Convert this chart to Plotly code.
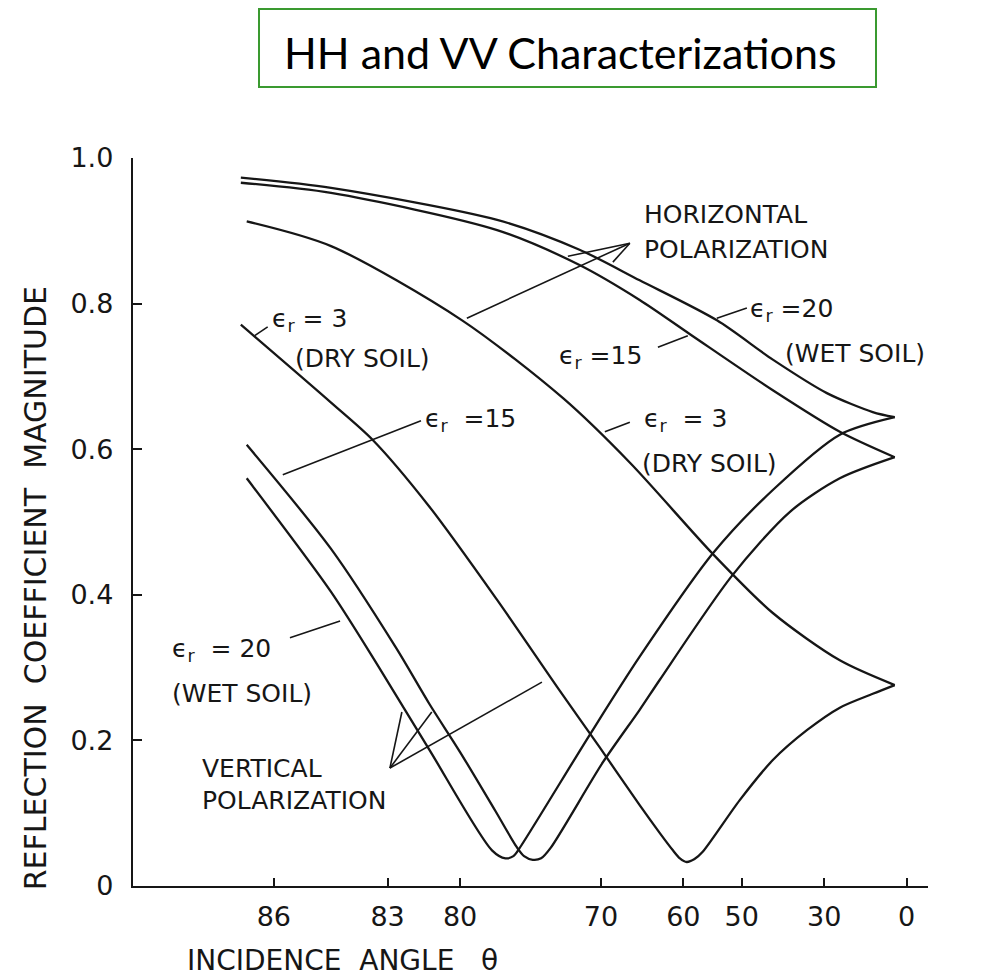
import numpy as np
import plotly.graph_objects as go

# ---- curve data: incidence angle (deg) and reflection coefficient magnitude ----
hh20_theta = [86.6, 84.7, 78.0, 72.0, 65.8, 54.6, 43.4, 29.2, 13.8, 5.1]
hh20_mag = [0.973, 0.959, 0.915, 0.874, 0.832, 0.777, 0.723, 0.677, 0.651, 0.644]

hh15_theta = [86.6, 84.7, 78.0, 72.0, 65.8, 59.0, 43.4, 25.2, 5.1]
hh15_mag = [0.966, 0.952, 0.901, 0.853, 0.805, 0.758, 0.681, 0.624, 0.589]

hh3_theta = [86.5, 84.7, 79.9, 73.4, 66.9, 55.3, 43.4, 25.2, 5.1]
hh3_mag = [0.913, 0.879, 0.777, 0.670, 0.581, 0.456, 0.375, 0.310, 0.276]

vv3_theta = [86.6, 84.7, 83.5, 81.4, 78.0, 73.7, 70.1, 65.8, 63.3, 61.5, 60.5,
             59.5, 58.3, 57.0, 50.4, 43.4, 34.9, 25.2, 13.8, 5.1]
vv3_mag = [0.771, 0.664, 0.613, 0.521, 0.393, 0.269, 0.190, 0.111, 0.073, 0.049, 0.038,
           0.033, 0.037, 0.047, 0.118, 0.173, 0.214, 0.245, 0.264, 0.276]

vv15_theta = [86.5, 84.7, 82.7, 81.4, 80.0, 78.1, 76.8, 76.3, 75.7, 75.1, 74.4,
              69.8, 65.8, 63.3, 51.9, 39.3, 25.2, 5.1]
vv15_mag = [0.606, 0.463, 0.327, 0.250, 0.184, 0.103, 0.054, 0.041, 0.036, 0.038, 0.052,
            0.170, 0.242, 0.283, 0.426, 0.514, 0.560, 0.589]

vv20_theta = [86.5, 84.7, 83.3, 81.4, 78.3, 77.5, 77.0, 76.6, 71.1,
              65.8, 55.3, 43.4, 25.2, 5.1]
vv20_mag = [0.560, 0.404, 0.301, 0.187, 0.049, 0.038, 0.041, 0.052, 0.207,
            0.315, 0.457, 0.544, 0.620, 0.644]

# ---- axis ticks ----
x_tick_angles = [86, 83, 80, 70, 60, 50, 30, 0]
y_tick_values = [0, 0.2, 0.4, 0.6, 0.8, 1.0]
y_tick_labels = ["0", "0.2", "0.4", "0.6", "0.8", "1.0"]

# ---- leader lines / arrows: (incidence angle, magnitude) pairs ----
leaders = [
    [(79.66, 0.780), (66.94, 0.883)],   # horizontal-polarization arrow, long stroke
    [(73.00, 0.865), (66.94, 0.883)],   # horizontal-polarization arrow, short stroke
    [(68.79, 0.857), (66.94, 0.883)],   # arrow head
    [(54.62, 0.780), (48.99, 0.794)],   # HH eps 20
    [(63.53, 0.740), (59.33, 0.756)],   # HH eps 15
    [(69.61, 0.624), (66.94, 0.637)],   # HH eps 3
    [(86.36, 0.756), (86.12, 0.768)],   # VV eps 3
    [(85.82, 0.565), (81.75, 0.639)],   # VV eps 15
    [(85.67, 0.341), (84.46, 0.364)],   # VV eps 20
    [(82.92, 0.162), (82.49, 0.239)],   # vertical-polarization arrow
    [(82.92, 0.162), (81.30, 0.239)],
    [(82.92, 0.162), (75.04, 0.280)],
]

# ---- text labels: (text, incidence angle, magnitude) ----
EPS = "\u03f5<sub>r</sub>"
labels = [
    ("HORIZONTAL", 65.55, 0.922),
    ("POLARIZATION", 65.55, 0.874),
    (EPS + " =20", 48.81, 0.791),
    ("(WET SOIL)", 41.05, 0.732),
    (EPS + " =15", 73.90, 0.727),
    (EPS + "  = 3", 65.55, 0.640),
    ("(DRY SOIL)", 65.78, 0.581),
    (EPS + " = 3", 86.08, 0.778),
    ("(DRY SOIL)", 85.60, 0.725),
    (EPS + "  =15", 81.67, 0.640),
    (EPS + "  = 20", 87.60, 0.324),
    ("(WET SOIL)", 87.60, 0.265),
    ("VERTICAL", 87.22, 0.162),
    ("POLARIZATION", 87.22, 0.118),
]

INK = "#161616"
FONT = "DejaVu Sans"


def grazing(theta):
    """Horizontal axis is logarithmic in the grazing angle 90 - theta."""
    return 90.0 - np.asarray(theta, dtype=float)


fig = go.Figure()

curves = [
    (hh20_theta, hh20_mag), (hh15_theta, hh15_mag), (hh3_theta, hh3_mag),
    (vv3_theta, vv3_mag), (vv15_theta, vv15_mag), (vv20_theta, vv20_mag),
]
for th, mag in curves:
    fig.add_trace(go.Scatter(
        x=grazing(th), y=mag, mode="lines",
        line=dict(color=INK, width=2.3, shape="spline", smoothing=0.8),
        hoverinfo="skip", showlegend=False,
    ))

for seg in leaders:
    th = [p[0] for p in seg]
    mg = [p[1] for p in seg]
    fig.add_trace(go.Scatter(
        x=grazing(th), y=mg, mode="lines",
        line=dict(color=INK, width=1.6),
        hoverinfo="skip", showlegend=False,
    ))

annotations = []
for text, th, mg in labels:
    annotations.append(dict(
        text=text, x=float(np.log10(90.0 - th)), y=mg, xref="x", yref="y",
        xanchor="left", yanchor="middle", showarrow=False,
        font=dict(family=FONT, size=25, color=INK),
    ))

# axis titles
annotations.append(dict(
    text="INCIDENCE  ANGLE   \u03b8", xref="paper", yref="paper",
    x=0.0654, y=-0.1030, xanchor="left", yanchor="middle", showarrow=False,
    font=dict(family=FONT, size=28, color=INK),
))
annotations.append(dict(
    text="REFLECTION  COEFFICIENT  MAGNITUDE", xref="paper", yref="paper",
    x=-0.1233, y=0.409, xanchor="center", yanchor="middle", textangle=-90,
    showarrow=False, font=dict(family=FONT, size=30, color=INK),
))

# boxed heading
annotations.append(dict(
    text="HH and VV Characterizations", xref="paper", yref="paper",
    x=0.1874, y=1.1456, xanchor="left", yanchor="middle", showarrow=False,
    font=dict(family="Lato", size=43, color="#000000"),
))

shapes = [dict(
    type="rect", xref="paper", yref="paper",
    x0=0.1585, x1=0.9346, y0=1.0975, y1=1.2047,
    line=dict(color="#3a9a30", width=2), fillcolor="rgba(0,0,0,0)",
)]

fig.update_layout(
    width=985, height=979,
    margin=dict(l=133, r=57, t=158, b=93),
    paper_bgcolor="white", plot_bgcolor="white",
    showlegend=False, hovermode=False,
    annotations=annotations, shapes=shapes,
    xaxis=dict(
        type="log", range=[np.log10(2.0), 2.0],
        tickvals=grazing(x_tick_angles).tolist(),
        ticktext=[str(a) for a in x_tick_angles],
        ticks="inside", ticklen=8, tickwidth=1.6, tickcolor=INK,
        showline=True, linecolor=INK, linewidth=2.4,
        showgrid=False, zeroline=False,
        tickfont=dict(family=FONT, size=27, color=INK),
        ticklabelstandoff=5,
    ),
    yaxis=dict(
        range=[0, 1.0],
        tickvals=y_tick_values, ticktext=y_tick_labels,
        ticks="inside", ticklen=9, tickwidth=1.6, tickcolor=INK,
        showline=True, linecolor=INK, linewidth=2.4,
        showgrid=False, zeroline=False,
        tickfont=dict(family=FONT, size=27, color=INK),
        ticklabelstandoff=12,
    ),
)

fig.write_html("out.html")
